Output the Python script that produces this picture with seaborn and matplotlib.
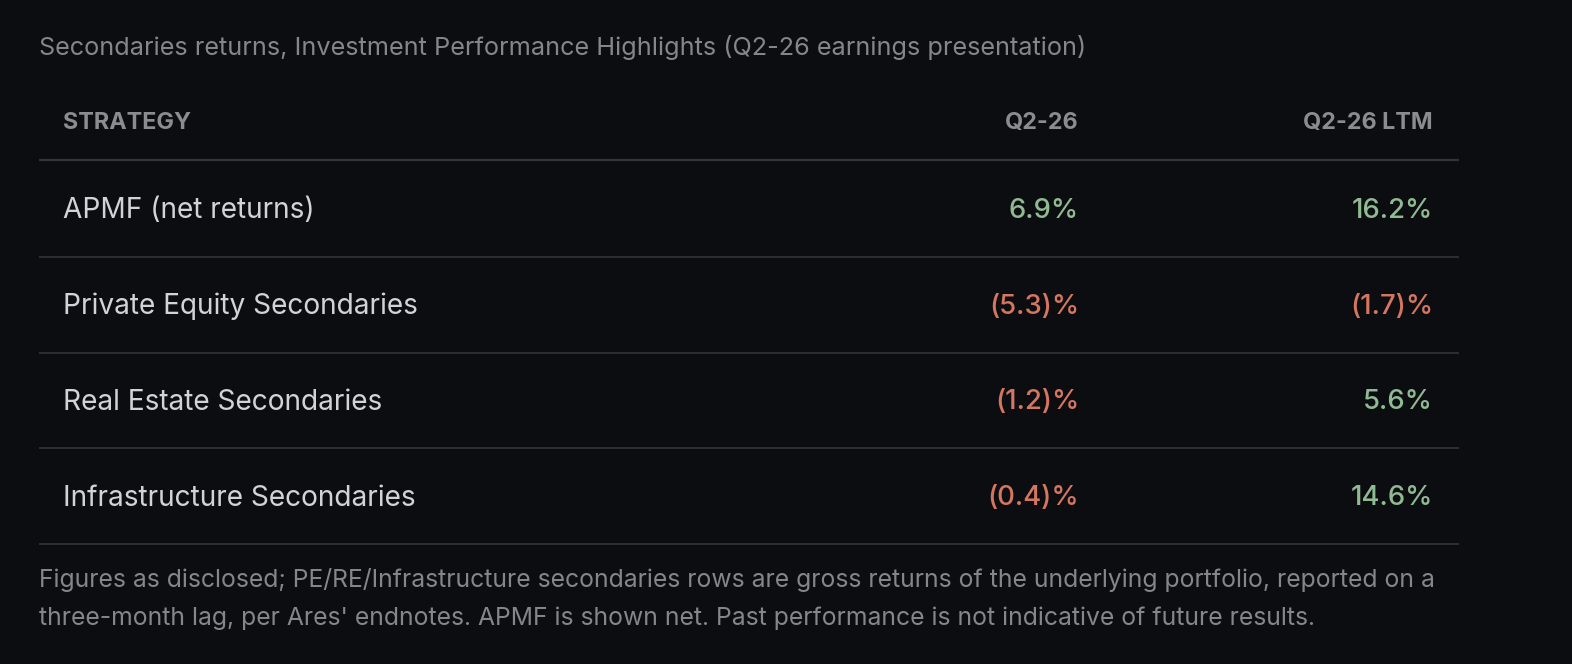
import matplotlib
matplotlib.use("Agg")
import matplotlib.pyplot as plt
import seaborn as sns

# data
title = "Secondaries returns, Investment Performance Highlights (Q2-26 earnings presentation)"
columns = ["STRATEGY", "Q2-26", "Q2-26 LTM"]
strategies = ["APMF (net returns)", "Private Equity Secondaries",
              "Real Estate Secondaries", "Infrastructure Secondaries"]
q2_26 = [6.9, -5.3, -1.2, -0.4]
q2_26_ltm = [16.2, -1.7, 5.6, 14.6]
footnote = ("Figures as disclosed; PE/RE/Infrastructure secondaries rows are gross returns of the underlying portfolio, reported on a\n"
            "three-month lag, per Ares' endnotes. APMF is shown net. Past performance is not indicative of future results.")

BG = "#0c0d10"
GREEN = "#8fbb93"
RED = "#d5765e"
LINE = "#333438"

sns.set_theme(style="dark", rc={"axes.facecolor": BG, "figure.facecolor": BG})
plt.rcParams["font.family"] = ["Inter", "DejaVu Sans"]


def fmt(v):
    return f"({abs(v):.1f})%" if v < 0 else f"{v:.1f}%"


fig = plt.figure(figsize=(15.72, 6.64), dpi=100)
ax = fig.add_axes([0, 0, 1, 1])
ax.set_xlim(0, 1572)
ax.set_ylim(664, 0)
ax.axis("off")

left, right = 39, 1459
col_x = [63, 1079, 1433]
row_h = 95.7
row0 = 209

ax.text(left, 47, title, color="#85868a", fontsize=18.2, va="center", ha="left")

# header
ax.text(col_x[0], 123, columns[0], color="#8b8c90", fontsize=16.8, fontweight="bold",
        va="center", ha="left")
for x, c in zip(col_x[1:], columns[1:]):
    ax.text(x, 123, c, color="#8b8c90", fontsize=16.8, fontweight="bold", va="center", ha="right")
ax.hlines(160, left, right, color=LINE, lw=1.6)

for i, name in enumerate(strategies):
    y = row0 + i * row_h
    ax.text(col_x[0], y + 2, name, color="#d2d3d6", fontsize=20.2, va="center", ha="left")
    for x, v in zip(col_x[1:], [q2_26[i], q2_26_ltm[i]]):
        ax.text(x, y + 2, fmt(v), color=GREEN if v >= 0 else RED, fontsize=19.8,
                fontweight="medium", va="center", ha="right")
    ax.hlines(y + row_h / 2, left, right, color=LINE, lw=1.2)

ax.text(left, 599, footnote, color="#85868a", fontsize=17.8, va="center", ha="left",
        linespacing=1.74)

fig.savefig("out.png", dpi=100, facecolor=BG)
plt.close()
